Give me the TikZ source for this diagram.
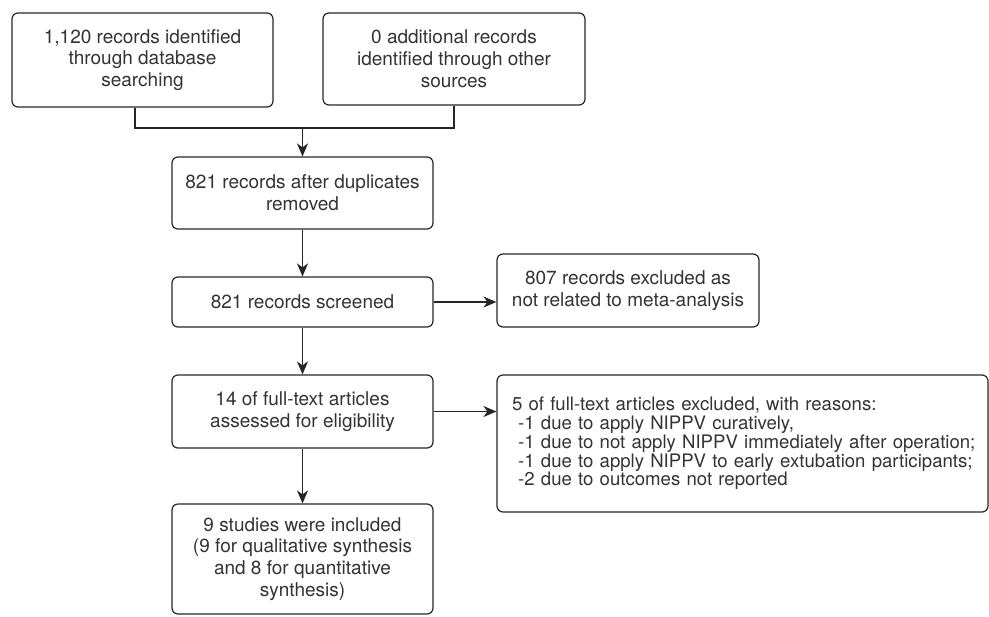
\documentclass[tikz,border=0pt]{standalone}
\usepackage{fontspec}
\setmainfont{TeX Gyre Heros}
\usetikzlibrary{arrows.meta}

\tikzset{
  box/.style={draw=black!85, line width=0.6pt, rounded corners=3pt,
    align=center, inner sep=0pt, text=black!80,
    font=\fontsize{9.5}{10.9}\selectfont},
  link/.style={draw=black!85, line width=0.6pt,
    -{Stealth[length=6.5pt,width=5.5pt,inset=2pt]}},
}

\begin{document}
\begin{tikzpicture}[x=0.5pt, y=-0.5pt]
  \useasboundingbox (0,0) rectangle (989,616);

  % identification
  \node [box, minimum width=130.5pt, minimum height=47pt] (db) at (142.5,60)
    {1,120 records identified\\through database\\searching};
  \node [box, minimum width=131pt, minimum height=46pt] (other) at (454,59)
    {0 additional records\\identified through other\\sources};

  \coordinate (jl) at (135,128);
  \coordinate (jm) at (302.5,128);
  \coordinate (jr) at (454,128);

  \draw [draw=black!85, line width=0.6pt] (db.south -| jl) -- (jl) -- (jr) -- (other.south);

  % screening
  \node [box, minimum width=130.5pt, minimum height=36pt] (dup) at (302.5,193)
    {821 records after duplicates\\removed};
  \node [box, minimum width=130.5pt, minimum height=25pt] (screen) at (302.5,302)
    {821 records screened};
  \node [box, minimum width=131pt, minimum height=36.5pt] (excl) at (628,290.5)
    {807 records excluded as\\not related to meta-analysis};

  % eligibility
  \node [box, minimum width=130.5pt, minimum height=36.5pt] (full) at (302.5,411.5)
    {14 of full-text articles\\assessed for eligibility};
  \node [box, align=left, inner xsep=7.5pt, text width=230.5pt, minimum height=68.5pt,
    font=\fontsize{9.3}{9.4}\selectfont] (reason) at (742.5,443.5)
    {5 of full-text articles excluded, with reasons:\\
     \ -1 due to apply NIPPV curatively,\\
     \mbox{\ -1 due to not apply NIPPV immediately after operation;}\\
     \mbox{\ -1 due to apply NIPPV to early extubation participants;}\\
     \ -2 due to outcomes not reported};

  % included
  \node [box, minimum width=130.5pt, minimum height=55pt] (incl) at (302.5,559)
    {9 studies were included\\(9 for qualitative synthesis\\and 8 for quantitative\\synthesis)};

  \draw [link] (jm) -- (dup);
  \draw [link] (dup) -- (screen);
  \draw [link] (screen) -- (screen -| excl.west);
  \draw [link] (screen) -- (full);
  \draw [link] (full) -- (full -| reason.west);
  \draw [link] (full) -- (incl);
\end{tikzpicture}
\end{document}
